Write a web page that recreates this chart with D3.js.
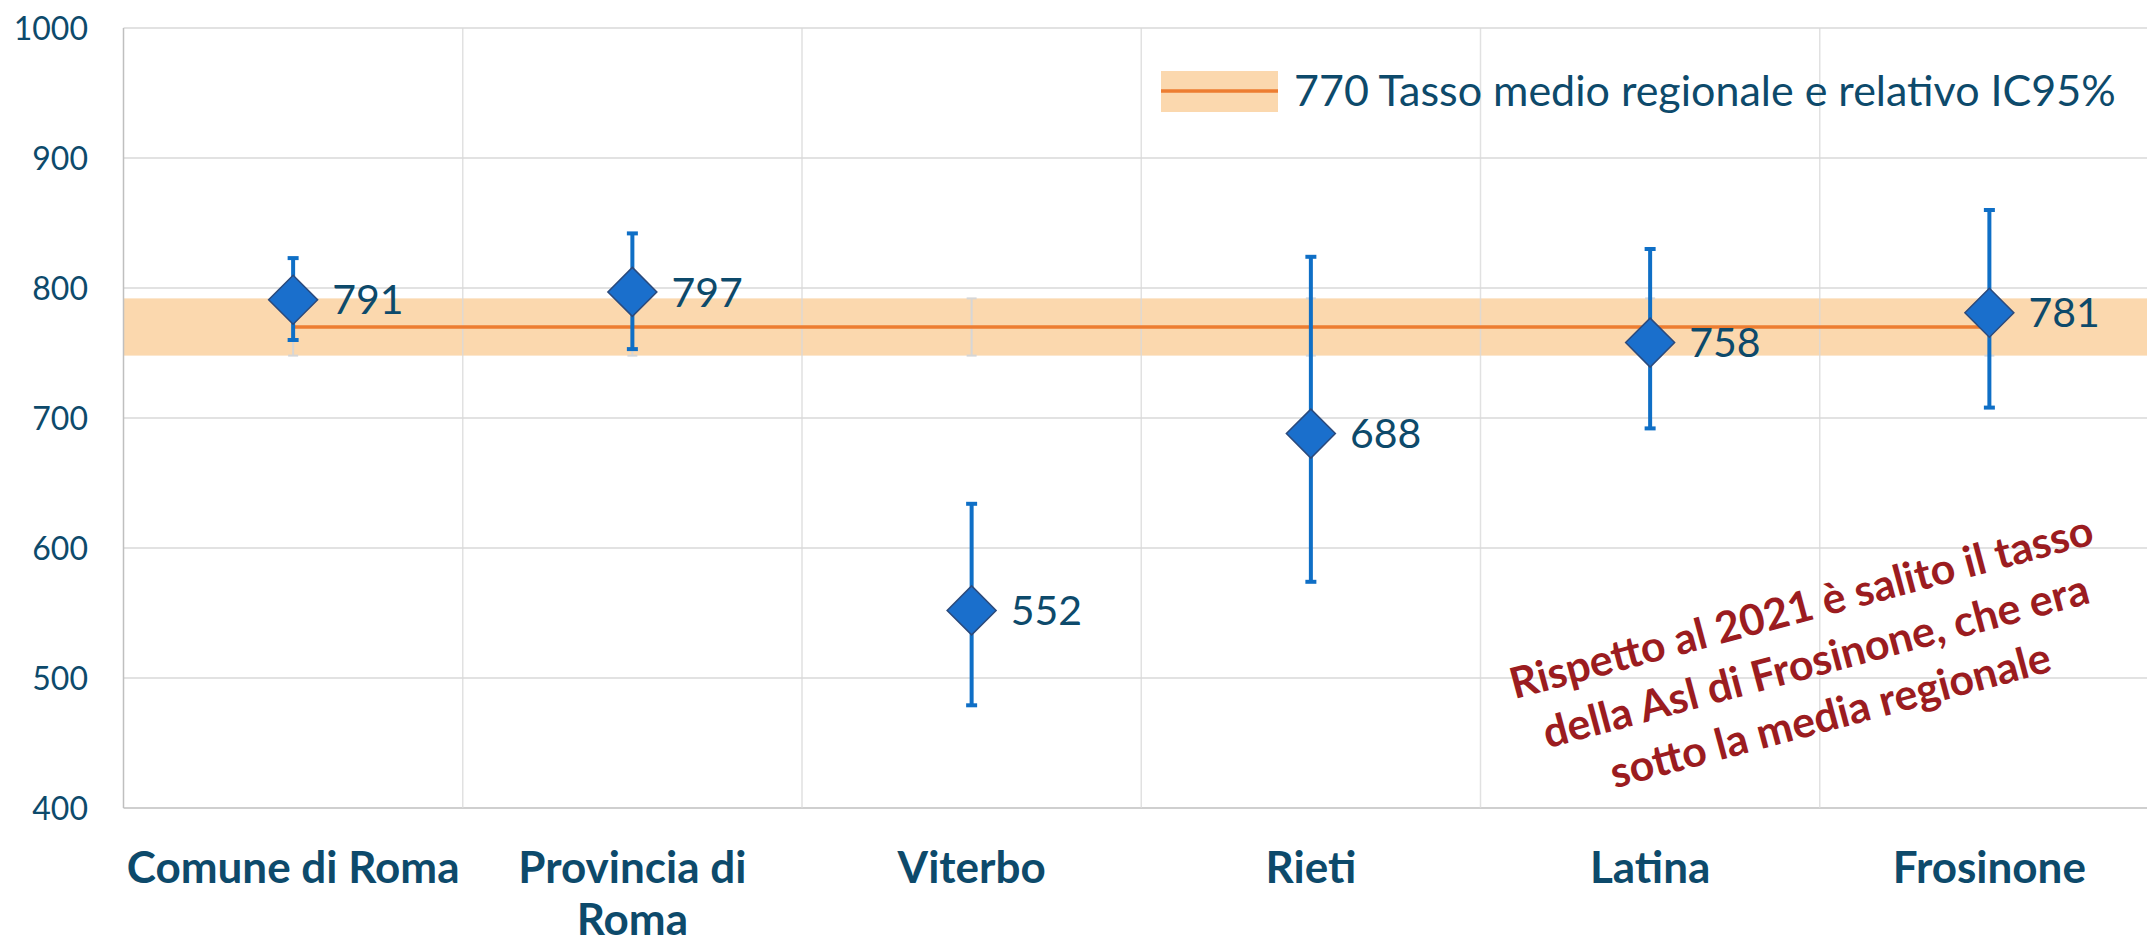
<!DOCTYPE html>
<html>
<head>
<meta charset="utf-8">
<script src="https://cdn.jsdelivr.net/npm/d3@7"></script>
<style>
  html, body { margin: 0; padding: 0; background: #ffffff; }
  svg { display: block; }
</style>
</head>
<body>
<script>
// ---- Data ----
const categories = ["Comune di Roma", "Provincia di Roma", "Viterbo", "Rieti", "Latina", "Frosinone"];
const rates = [791, 797, 552, 688, 758, 781];
const ciLow = [760, 753, 479, 574, 692, 708];
const ciHigh = [823, 842, 634, 824, 830, 860];
const regionalRate = 770;
const regionalLow = 748;
const regionalHigh = 792;
const yTicks = [400, 500, 600, 700, 800, 900, 1000];
const legendLabel = "770 Tasso medio regionale e relativo IC95%";
const noteLines = ["Rispetto al 2021 è salito il tasso", "della Asl di Frosinone, che era", "sotto la media regionale"];

// ---- Layout ----
const W = 2147, H = 944;
const textColor = "#0d4a6b";
const font = "Lato, 'Open Sans', sans-serif";

const svg = d3.select("body").append("svg").attr("width", W).attr("height", H)
  .style("font-family", font);

const x = d3.scaleBand().domain(categories).range([123.5, 2159]);
const y = d3.scaleLinear().domain([400, 1000]).range([808, 28]);
const cx = d => x(d) + x.bandwidth() / 2;

// regional band
svg.append("rect")
  .attr("x", x.range()[0]).attr("width", x.range()[1] - x.range()[0])
  .attr("y", y(regionalHigh)).attr("height", y(regionalLow) - y(regionalHigh))
  .attr("fill", "#fbd8ae");

// horizontal gridlines
svg.append("g").selectAll("line").data(yTicks).join("line")
  .attr("x1", x.range()[0]).attr("x2", x.range()[1])
  .attr("y1", d => y(d)).attr("y2", d => y(d))
  .attr("stroke", d => d === 400 ? "#bfbfbf" : "#d9d9d9").attr("stroke-width", 1.5);

// vertical gridlines (category boundaries)
const bounds = categories.map(c => x(c)).concat([x.range()[1]]);
svg.append("g").selectAll("line").data(bounds).join("line")
  .attr("x1", d => d).attr("x2", d => d)
  .attr("y1", y(1000)).attr("y2", y(400))
  .attr("stroke", (d, i) => i === 0 ? "#bfbfbf" : "#d9d9d9").attr("stroke-width", 1.5)
  .attr("stroke-opacity", (d, i) => i === 0 ? 1 : 0.8);

// regional CI error bars (light grey)
const rg = svg.append("g").attr("stroke", "#d6d6d6").attr("stroke-width", 2);
categories.forEach(c => {
  rg.append("line").attr("x1", cx(c)).attr("x2", cx(c)).attr("y1", y(regionalHigh)).attr("y2", y(regionalLow));
  [regionalHigh, regionalLow].forEach(v => rg.append("line")
    .attr("x1", cx(c) - 5).attr("x2", cx(c) + 5).attr("y1", y(v)).attr("y2", y(v)));
});

// regional line
svg.append("line")
  .attr("x1", cx(categories[0])).attr("x2", cx(categories[categories.length - 1]))
  .attr("y1", y(regionalRate)).attr("y2", y(regionalRate))
  .attr("stroke", "#ed7d31").attr("stroke-width", 3.5);

// y axis labels
svg.append("g").selectAll("text").data(yTicks).join("text")
  .attr("x", 88).attr("y", d => y(d)).attr("dy", "0.36em")
  .attr("text-anchor", "end").attr("fill", textColor)
  .style("font-size", "32px").text(d => d);

// error bars
const eb = svg.append("g").attr("stroke", "#0f6fc6").attr("stroke-width", 4);
categories.forEach((c, i) => {
  eb.append("line").attr("x1", cx(c)).attr("x2", cx(c)).attr("y1", y(ciHigh[i])).attr("y2", y(ciLow[i]));
  [ciHigh[i], ciLow[i]].forEach(v => eb.append("line")
    .attr("x1", cx(c) - 5.5).attr("x2", cx(c) + 5.5).attr("y1", y(v)).attr("y2", y(v)));
});

// diamonds
const sym = d3.symbol().type(d3.symbolSquare).size(1200);
svg.append("g").selectAll("path").data(categories).join("path")
  .attr("d", sym)
  .attr("transform", (c, i) => `translate(${cx(c)},${y(rates[i])}) rotate(45)`)
  .attr("fill", "#1a6fcc").attr("stroke", "#2b4a7c").attr("stroke-width", 1.5);

// value labels
svg.append("g").selectAll("text").data(categories).join("text")
  .attr("x", c => cx(c) + 39).attr("y", (c, i) => y(rates[i])).attr("dy", "0.36em")
  .attr("fill", textColor).style("font-size", "41px").text((c, i) => rates[i]);

// x labels with wrapping
const xl = svg.append("g");
categories.forEach(c => {
  const t = xl.append("text").attr("x", cx(c)).attr("y", 883)
    .attr("text-anchor", "middle").attr("fill", textColor)
    .style("font-size", "44px").style("font-weight", "bold");
  const words = c.split(" ");
  let line = [];
  let tspan = t.append("tspan").attr("x", cx(c)).attr("dy", 0);
  words.forEach(w => {
    line.push(w);
    tspan.text(line.join(" "));
    if (tspan.node().getComputedTextLength() > x.bandwidth() - 5 && line.length > 1) {
      line.pop();
      tspan.text(line.join(" "));
      line = [w];
      tspan = t.append("tspan").attr("x", cx(c)).attr("dy", 52).text(w);
    }
  });
});

// legend
const lg = svg.append("g");
lg.append("rect").attr("x", 1161).attr("y", 71).attr("width", 117).attr("height", 41).attr("fill", "#fbd8ae");
lg.append("line").attr("x1", 1161).attr("x2", 1278).attr("y1", 91).attr("y2", 91)
  .attr("stroke", "#ed7d31").attr("stroke-width", 3.5);
lg.append("text").attr("x", 1294).attr("y", 91).attr("dy", "0.36em")
  .attr("fill", textColor).style("font-size", "43px").text(legendLabel);

// annotation
const note = svg.append("g").attr("transform", "translate(1816,662) rotate(-15)");
note.selectAll("text").data(noteLines).join("text")
  .attr("x", 0).attr("y", (d, i) => (i - 1) * 56 + 14)
  .attr("text-anchor", "middle").attr("fill", "#9b1c20")
  .style("font-size", "43px").style("font-weight", "bold").text(d => d);
</script>
</body>
</html>
